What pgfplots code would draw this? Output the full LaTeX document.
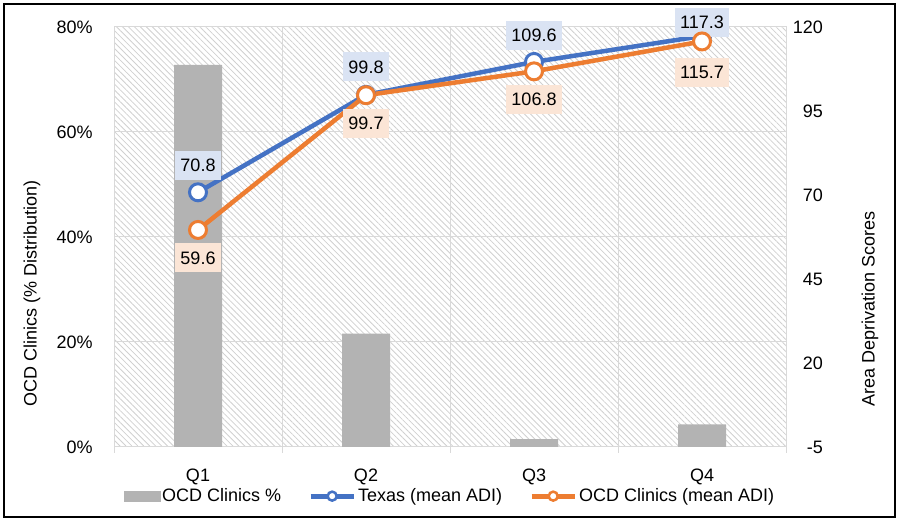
\documentclass[border=0pt]{standalone}
\usepackage{pgfplots}
\pgfplotsset{compat=1.18}
\usepackage{pgfplotstable}
\usepackage{fontspec}
\setmainfont{Liberation Sans}
\usetikzlibrary{patterns.meta}
\definecolor{tblue}{HTML}{4472C4}
\definecolor{torange}{HTML}{ED7D31}
\definecolor{bargray}{HTML}{B3B3B3}
\definecolor{gridgray}{HTML}{D9D9D9}
\definecolor{hatchgray}{HTML}{D0D0D0}
\definecolor{lblue}{HTML}{DAE3F3}
\definecolor{lorange}{HTML}{FBE5D6}
\pgfplotsset{/pgf/number format/assume math mode=true}

\pgfplotstableread{
x pct
0 72.8
1 21.6
2 1.5
3 4.3
}\bars
\pgfplotstableread{
x tx dt oc do
0 70.8 27 59.6 -28
1 99.8 28 99.7 -28
2 109.6 27 106.8 -28
3 117.3 14 115.7 -31
}\lines

\begin{document}
\fontsize{18bp}{21bp}\selectfont
\begin{tikzpicture}[x=1bp,y=1bp]
\useasboundingbox (0,0) rectangle (900,522);
\draw[line width=2bp] (4,5) rectangle (895,518);
\fill[pattern={Lines[angle=-45,distance=4.2bp,line width=0.8bp]}, pattern color=hatchgray] (114,75) rectangle (786,495);

\begin{axis}[
  at={(114bp,75bp)}, anchor=south west, scale only axis,
  width=672bp, height=420bp,
  xmin=-0.5, xmax=3.5, ymin=0, ymax=80,
  xtick={0,1,2,3}, xticklabels={Q1,Q2,Q3,Q4},
  major x tick style={draw=none},
  minor xtick={-0.5,0.5,1.5,2.5,3.5}, xminorgrids,
  minor grid style={gridgray, line width=1bp},
  minor x tick style={gridgray, line width=1bp},
  minor tick length=6bp, tick align=outside, xtick pos=bottom,
  ytick={0,20,40,60,80}, ymajorgrids,
  major grid style={gridgray, line width=1bp},
  major y tick style={draw=none}, ytick pos=left,
  yticklabel={\pgfmathprintnumber{\tick}\%},
  yticklabel style={anchor=east, inner sep=0pt, xshift=-17bp},
  xticklabel style={anchor=north, inner sep=0pt, yshift=-17bp},
  axis line style={gridgray, line width=1bp},
  ylabel={OCD Clinics (\% Distribution)},
  ylabel style={at={(axis description cs:-0.122,0.365)}, anchor=center},
]
\addplot[ybar, bar width=48bp, fill=bargray, draw=none] table[x=x,y=pct]{\bars};
\end{axis}

\begin{axis}[
  at={(114bp,75bp)}, anchor=south west, scale only axis,
  width=672bp, height=420bp,
  xmin=-0.5, xmax=3.5, ymin=-5, ymax=120,
  axis x line=none, axis y line*=right,
  y axis line style={draw=none},
  ytick={-5,20,45,70,95,120}, major tick length=0pt,
  yticklabel style={anchor=east, inner sep=0pt, xshift=37bp},
  ylabel={Area Deprivation Scores},
  ylabel style={at={(axis description cs:1.125,0.328)}, anchor=center},
  clip=false,
  legend style={at={(0.5,-0.117)}, anchor=center, draw=none, fill=none,
    legend columns=3, /tikz/every even column/.append style={column sep=25bp},
    nodes={inner xsep=2bp, inner ysep=0pt}, cells={anchor=west}},
  nodes near coords={\pgfmathprintnumber[fixed,fixed zerofill,precision=1]{\pgfplotspointmeta}},
  point meta=y,
]
\addlegendimage{legend image code/.code={\fill[bargray] (0bp,-5bp) rectangle (36bp,5bp);}}
\addlegendentry{OCD Clinics \%}
\addplot[tblue, line width=4.5bp, mark=*, mark size=8.5bp,
  mark options={fill=white, draw=tblue, line width=3bp},
  visualization depends on={\thisrow{dt} \as \dy},
  every node near coord/.append style={fill=lblue, text=black, inner xsep=5.5bp, inner ysep=0pt,
     minimum height=29bp, anchor=center, yshift=\dy pt},
  legend image code/.code={\draw[mark repeat=2,mark phase=2,mark size=4.5bp,line width=5bp,
     every mark/.append style={line width=2.5bp}] plot coordinates {(0bp,0bp) (21.5bp,0bp) (43bp,0bp)};}]
  table[x=x,y=tx]{\lines};
\addlegendentry{Texas (mean ADI)}
\addplot[torange, line width=4.5bp, mark=*, mark size=8.5bp,
  mark options={fill=white, draw=torange, line width=3bp},
  visualization depends on={\thisrow{do} \as \dy},
  every node near coord/.append style={fill=lorange, text=black, inner xsep=5.5bp, inner ysep=0pt,
     minimum height=29bp, anchor=center, yshift=\dy pt},
  legend image code/.code={\draw[mark repeat=2,mark phase=2,mark size=4.5bp,line width=5bp,
     every mark/.append style={line width=2.5bp}] plot coordinates {(0bp,0bp) (21.5bp,0bp) (43bp,0bp)};}]
  table[x=x,y=oc]{\lines};
\addlegendentry{OCD Clinics (mean ADI)}
\end{axis}
\end{tikzpicture}
\end{document}
